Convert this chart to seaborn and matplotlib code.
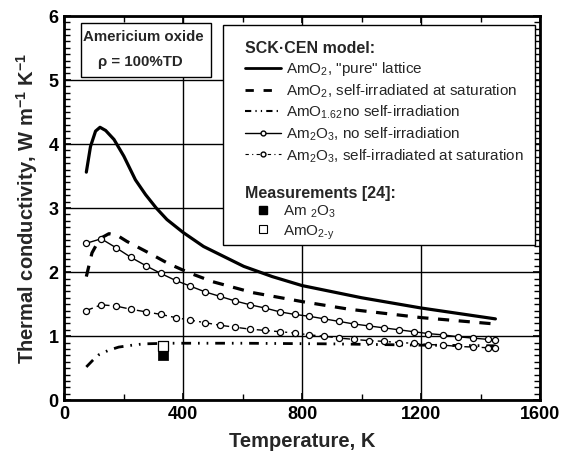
import matplotlib
matplotlib.use("Agg")
import matplotlib.pyplot as plt
import seaborn as sns
from matplotlib.lines import Line2D
from matplotlib.patches import Rectangle
from matplotlib.ticker import MultipleLocator, FixedLocator

# ---------------- data ----------------
T_pure = [75, 89, 106, 121, 140, 168, 201, 240, 274, 310, 346, 400, 469, 604, 700, 800, 1000, 1200, 1450]
k_pure = [3.56, 3.96, 4.20, 4.26, 4.21, 4.07, 3.81, 3.44, 3.21, 3.00, 2.82, 2.62, 2.40, 2.09, 1.93, 1.79, 1.60, 1.44, 1.27]

T_sat = [75, 94, 120, 151, 180, 211, 285, 352, 420, 500, 634, 800, 959, 1200, 1450]
k_sat = [1.93, 2.30, 2.52, 2.60, 2.57, 2.48, 2.30, 2.13, 1.99, 1.85, 1.68, 1.54, 1.42, 1.29, 1.19]

T_162 = [75, 100, 117, 150, 184, 230, 267, 350, 600, 900, 1200, 1450]
k_162 = [0.52, 0.64, 0.71, 0.78, 0.83, 0.86, 0.88, 0.89, 0.89, 0.88, 0.86, 0.85]

T_am2o3 = [75, 125, 175, 225, 275, 325, 375, 425, 475, 525, 575, 625, 675, 725, 775,
           825, 875, 925, 975, 1025, 1075, 1125, 1175, 1225, 1275, 1325, 1375, 1425, 1450]
k_am2o3 = [2.45, 2.52, 2.38, 2.23, 2.10, 1.98, 1.87, 1.78, 1.69, 1.62, 1.55, 1.49, 1.44, 1.38, 1.34,
           1.31, 1.27, 1.23, 1.19, 1.16, 1.13, 1.10, 1.07, 1.04, 1.02, 0.99, 0.97, 0.95, 0.94]
k_am2o3_sat = [1.40, 1.49, 1.47, 1.42, 1.38, 1.34, 1.29, 1.25, 1.21, 1.17, 1.14, 1.11, 1.09, 1.07, 1.05,
               1.02, 1.00, 0.97, 0.95, 0.93, 0.92, 0.90, 0.89, 0.87, 0.86, 0.84, 0.83, 0.82, 0.81]

T_meas = [333]
k_meas_am2o3 = [0.70]
k_meas_amo2y = [0.84]

model_labels = [r'AmO$_2$, "pure" lattice',
                r'AmO$_2$, self-irradiated at saturation',
                r'AmO$_{1.62}$no self-irradiation',
                r'Am$_2$O$_3$, no self-irradiation',
                r'Am$_2$O$_3$, self-irradiated at saturation']
meas_labels = [r'Am $_2$O$_3$', r'AmO$_{2\text{-}y}$']

x_ticks = [0, 400, 800, 1200, 1600]
y_ticks = [0, 1, 2, 3, 4, 5, 6]

# ---------------- style ----------------
sns.set_style("ticks")
plt.rcParams['font.family'] = ['Liberation Sans', 'DejaVu Sans']
plt.rcParams['mathtext.fontset'] = 'custom'
plt.rcParams['mathtext.rm'] = 'Liberation Sans'
plt.rcParams['mathtext.it'] = 'Liberation Sans:italic'
plt.rcParams['mathtext.bf'] = 'Liberation Sans:bold'
plt.rcParams['mathtext.default'] = 'regular'

fig = plt.figure(figsize=(5.65, 4.565), dpi=100)
ax = fig.add_axes([0.1133, 0.1221, 0.8425, 0.8422])

# ---------------- lines ----------------
sns.lineplot(x=T_pure, y=k_pure, ax=ax, color='black', lw=2.3, estimator=None, sort=False)
sns.lineplot(x=T_sat, y=k_sat, ax=ax, color='black', lw=2.3, estimator=None, sort=False,
             linestyle=(0, (3.5, 3.0)))
sns.lineplot(x=T_162, y=k_162, ax=ax, color='black', lw=2.0, estimator=None, sort=False,
             linestyle=(0, (3.5, 2.5, 0.6, 2.5, 0.6, 2.5)))
sns.lineplot(x=T_am2o3, y=k_am2o3, ax=ax, color='black', lw=1.0, estimator=None, sort=False,
             marker='o', markersize=4.4, markerfacecolor='white', markeredgecolor='black', markeredgewidth=0.9)
sns.lineplot(x=T_am2o3, y=k_am2o3_sat, ax=ax, color='black', lw=1.0, estimator=None, sort=False,
             linestyle=(0, (5, 3, 1.5, 3)),
             marker='o', markersize=4.4, markerfacecolor='white', markeredgecolor='black', markeredgewidth=0.9)

sns.scatterplot(x=T_meas, y=k_meas_am2o3, ax=ax, marker='s', s=45, color='black', edgecolor='black', zorder=5)
sns.scatterplot(x=T_meas, y=k_meas_amo2y, ax=ax, marker='s', s=60, facecolor='white', edgecolor='black',
                linewidth=0.9, zorder=5)

# ---------------- axes ----------------
ax.set_xlim(0, 1600)
ax.set_ylim(0, 6)
ax.xaxis.set_major_locator(FixedLocator(x_ticks))
ax.yaxis.set_major_locator(FixedLocator(y_ticks))
ax.xaxis.set_minor_locator(MultipleLocator(200))
ax.yaxis.set_minor_locator(MultipleLocator(0.1))
ax.tick_params(axis='both', which='major', direction='in', length=5, width=1.2,
               labelsize=13, bottom=True, left=True, top=True, right=True, colors='black', pad=4)
ax.tick_params(axis='both', which='minor', direction='in', length=4, width=1.0,
               bottom=True, left=True, top=True, right=True, colors='black')
for lab in ax.get_xticklabels() + ax.get_yticklabels():
    lab.set_fontweight('bold')
ax.grid(True, which='major', color='black', lw=1.0)
for s in ax.spines.values():
    s.set_color('black')
    s.set_linewidth(2.0)
    s.set_visible(True)

ax.set_xlabel('Temperature, K', fontsize=14.5, fontweight='bold', labelpad=6)
ax.set_ylabel(r'Thermal conductivity, W m$^{\mathbf{-1}}$ K$^{\mathbf{-1}}$', fontsize=14.5,
              fontweight='bold', labelpad=6)

# ---------------- text box ----------------
ax.add_patch(Rectangle((0.0357, 0.842), 0.2731, 0.138, transform=ax.transAxes, facecolor='white',
                       edgecolor='black', lw=1.0, zorder=6))
ax.text(0.167, 0.946, 'Americium oxide', transform=ax.transAxes, ha='center', va='center',
        fontsize=10.8, fontweight='bold', zorder=7)
ax.text(0.160, 0.882, 'ρ = 100%TD', transform=ax.transAxes, ha='center', va='center',
        fontsize=10.8, fontweight='bold', zorder=7)

# ---------------- legend ----------------
ax.add_patch(Rectangle((0.334, 0.404), 0.6555, 0.571, transform=ax.transAxes, facecolor='white',
                       edgecolor='black', lw=1.0, zorder=6))

model_handles = [
    Line2D([], [], color='black', lw=2.0),
    Line2D([], [], color='black', lw=2.0, linestyle=(0, (3, 3.5))),
    Line2D([], [], color='black', lw=1.5, linestyle=(0, (3, 2, 0.6, 2, 0.6, 2))),
    Line2D([], [], color='black', lw=1.0, marker='o', markersize=3.5, markerfacecolor='white', markeredgecolor='black'),
    Line2D([], [], color='black', lw=0.8, linestyle=(0, (3, 3, 1, 3)), marker='o', markersize=3.5,
           markerfacecolor='white', markeredgecolor='black'),
]
leg1 = ax.legend(model_handles, model_labels, title='SCK·CEN model:', loc='upper left',
                 bbox_to_anchor=(0.380, 0.935), frameon=False, fontsize=11, handlelength=2.35,
                 handletextpad=0.33, labelspacing=0.27, borderaxespad=0, borderpad=0, alignment='left',
                 title_fontproperties={'weight': 'bold', 'size': 11.5})
leg1.set_zorder(7)
ax.add_artist(leg1)

meas_handles = [
    Line2D([], [], linestyle='none', marker='s', markersize=6, color='black'),
    Line2D([], [], linestyle='none', marker='s', markersize=6, markerfacecolor='white', markeredgecolor='black', markeredgewidth=0.8),
]
leg2 = ax.legend(meas_handles, meas_labels, title='Measurements [24]:', loc='upper left',
                 bbox_to_anchor=(0.380, 0.559), frameon=False, fontsize=11, handlelength=2.35,
                 handletextpad=0.15, labelspacing=0.2, borderaxespad=0, borderpad=0, alignment='left',
                 title_fontproperties={'weight': 'bold', 'size': 11.5})
leg2.set_zorder(7)

fig.savefig('out.png', dpi=100)
